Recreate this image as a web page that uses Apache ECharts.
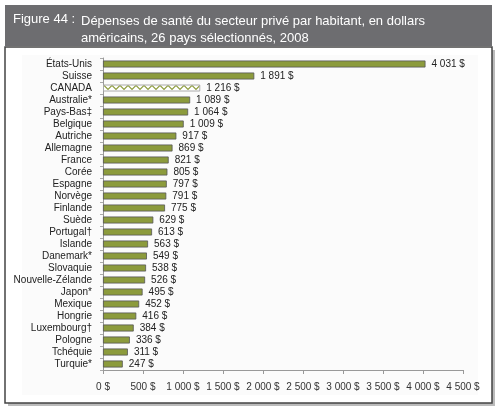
<!DOCTYPE html>
<html>
<head>
<meta charset="utf-8">
<script src="https://cdn.jsdelivr.net/npm/echarts@6/dist/echarts.min.js"></script>
<style>
  html, body { margin: 0; padding: 0; background: #fff; }
  #stage { width: 504px; height: 412px; }
</style>
</head>
<body>
<div id="stage"></div>
<script>
'use strict';

// données
const pays = ['États-Unis', 'Suisse', 'CANADA', 'Australie*', 'Pays-Bas‡', 'Belgique', 'Autriche',
  'Allemagne', 'France', 'Corée', 'Espagne', 'Norvège', 'Finlande', 'Suède', 'Portugal†',
  'Islande', 'Danemark*', 'Slovaquie', 'Nouvelle-Zélande', 'Japon*', 'Mexique', 'Hongrie',
  'Luxembourg†', 'Pologne', 'Tchéquie', 'Turquie*'];
const depenses = [4031, 1891, 1216, 1089, 1064, 1009, 917, 869, 821, 805, 797, 791, 775,
  629, 613, 563, 549, 538, 526, 495, 452, 416, 384, 336, 311, 247];
const graduations = [0, 500, 1000, 1500, 2000, 2500, 3000, 3500, 4000, 4500];

const FONT = "'Liberation Sans Narrow', 'Arial Narrow', 'Liberation Sans', Arial, sans-serif";
const VERT = '#8c9b3c';

// motif zigzag pour le Canada
const motif = document.createElement('canvas');
motif.width = 8;
motif.height = 7;
const ctx = motif.getContext('2d');
ctx.fillStyle = '#fff';
ctx.fillRect(0, 0, 8, 7);
ctx.strokeStyle = VERT;
ctx.lineWidth = 1.2;
ctx.beginPath();
ctx.moveTo(0, 1.5);
ctx.lineTo(4, 5.5);
ctx.lineTo(8, 1.5);
ctx.stroke();

function fmt(v) {
  return String(v).replace(/\B(?=(\d{3})+(?!\d))/g, ' ') + ' $';
}

const myChart = echarts.init(document.getElementById('stage'));

const option = {
  backgroundColor: '#fff',
  animation: false,
  graphic: [
    // ombre du cadre
    { type: 'rect', shape: { x: 8, y: 50, width: 487, height: 356 }, style: { fill: '#bbb' }, z: -10 },
    { type: 'rect', shape: { x: 5, y: 47, width: 487, height: 356 }, style: { fill: '#fff', stroke: '#444', lineWidth: 1.5 }, z: -9 },
    { type: 'rect', shape: { x: 22, y: 55, width: 456, height: 340 }, style: { fill: '#fbfbfb' }, z: -8 },
    // bandeau du titre
    { type: 'rect', shape: { x: 5, y: 5, width: 487, height: 41 }, style: { fill: '#6d6d70' }, z: -9 }
  ],
  title: [
    {
      text: 'Figure 44 :',
      left: 8, top: 8,
      textStyle: { color: '#fff', fontSize: 13, fontWeight: 'normal', fontFamily: "'Liberation Sans', Arial, sans-serif" }
    },
    {
      text: 'Dépenses de santé du secteur privé par habitant, en dollars\naméricains, 26 pays sélectionnés, 2008',
      left: 76, top: 8,
      textStyle: { color: '#fff', fontSize: 13, fontWeight: 'normal', lineHeight: 17, fontFamily: "'Liberation Sans', Arial, sans-serif" }
    }
  ],
  grid: {
    left: 103,
    top: 58,
    width: 360,
    height: 312
  },
  xAxis: {
    type: 'value',
    min: 0,
    max: 4500,
    interval: 500,
    axisLine: { show: true, lineStyle: { color: '#999' } },
    axisTick: { show: true, length: 4, lineStyle: { color: '#999' } },
    splitLine: { show: false },
    axisLabel: {
      margin: 12,
      color: '#333',
      fontSize: 10,
      fontFamily: FONT,
      formatter: v => graduations.includes(v) ? fmt(v) : ''
    }
  },
  yAxis: {
    type: 'category',
    inverse: true,
    data: pays,
    axisLine: { show: true, lineStyle: { color: '#999' } },
    axisTick: { show: true, length: 3, lineStyle: { color: '#aaa' } },
    axisLabel: {
      interval: 0,
      margin: 11,
      color: '#222',
      fontSize: 10,
      fontFamily: FONT
    }
  },
  series: [
    {
      type: 'bar',
      barWidth: 7,
      data: depenses.map((v, i) => pays[i] === 'CANADA'
        ? { value: v, itemStyle: { color: { image: motif, repeat: 'repeat' }, borderColor: '#aaa', borderWidth: 1 } }
        : v),
      itemStyle: { color: VERT, borderColor: '#555', borderWidth: 0.8 },
      label: {
        show: true,
        position: 'right',
        distance: 6,
        color: '#222',
        fontSize: 10,
        fontFamily: FONT,
        formatter: p => fmt(p.value)
      }
    }
  ]
};

myChart.setOption(option);
</script>
</body>
</html>
